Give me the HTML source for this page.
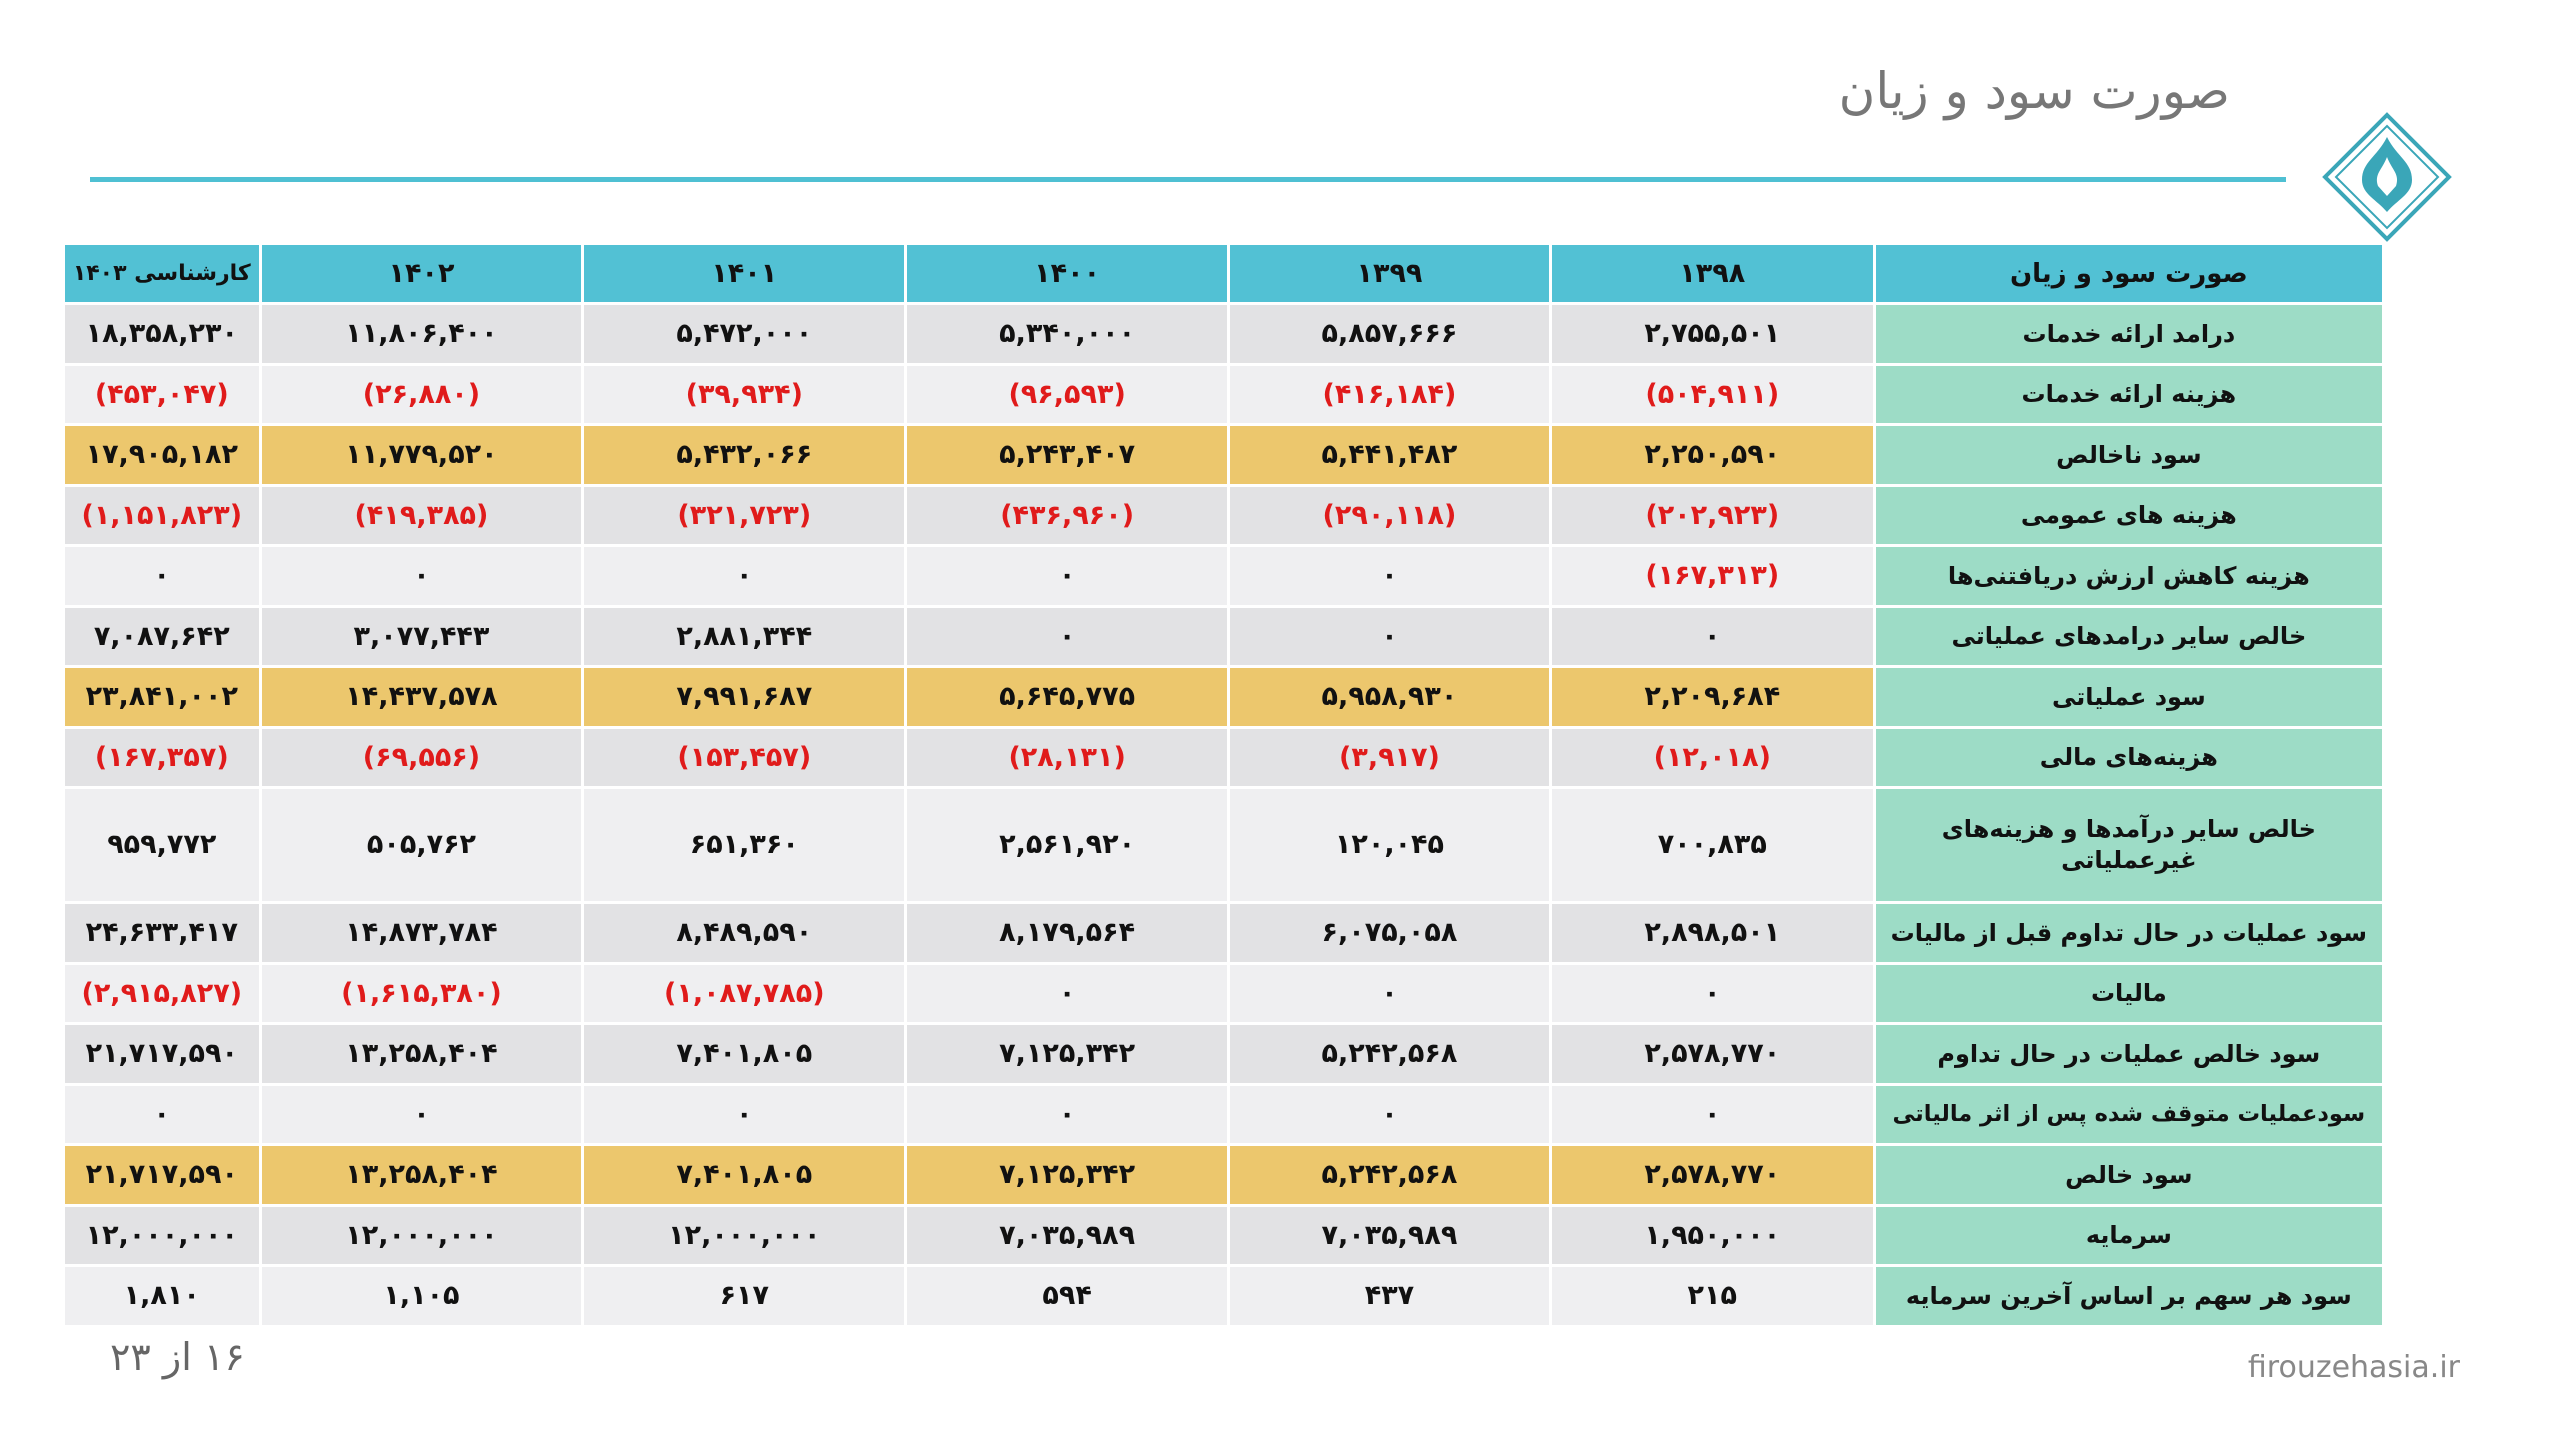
<!DOCTYPE html>
<html><head><meta charset="utf-8"><style>
html,body{margin:0;padding:0;background:#fff;width:2560px;height:1440px;overflow:hidden}
body{position:relative;font-family:"DejaVu Sans","Liberation Sans",sans-serif}
.title{position:absolute;right:330px;top:62px;font-size:50px;color:#777;direction:rtl}
.line{position:absolute;left:90px;top:177px;width:2196px;height:5px;background:#4fc0d3}
table{position:absolute;left:62px;top:242px;width:2323px;border-collapse:separate;border-spacing:3px;direction:rtl;table-layout:fixed}
td{text-align:center;font-weight:bold;font-size:27px;color:#111;height:57.5px;padding:0;white-space:nowrap;overflow:hidden}
tr.h td{background:#52c1d4;height:57px}
td.l{background:#9ddcc6;font-size:24px;letter-spacing:-0.6px}
tr.a td:not(.l){background:#e2e2e4}
tr.b td:not(.l){background:#efeff1}
tr.y td:not(.l){background:#ecc76d}
.r{color:#e01b1b}
tr.d td{height:112px;white-space:normal;line-height:1.3}
td.s{font-size:22px;letter-spacing:-1px}
.foot1{position:absolute;left:110px;top:1335px;font-size:38px;color:#666;direction:rtl}
.foot2{position:absolute;right:100px;top:1350px;font-size:30px;color:#888}
.logo{position:absolute;left:2322px;top:112px}
</style></head><body>
<div class="title">صورت سود و زیان</div>
<div class="line"></div>
<svg class="logo" width="130" height="130" viewBox="0 0 130 130">
<polygon points="65,3 127,65 65,127 3,65" fill="none" stroke="#3aa6b8" stroke-width="4"/>
<polygon points="65,14 116,65 65,116 14,65" fill="none" stroke="#3aa6b8" stroke-width="2"/>
<path d="M65,25 C55,45 40,50 40,68 C40,82 55,88 65,100 C75,88 90,82 90,68 C90,50 75,45 65,25Z" fill="#3aa6b8"/>
<path d="M65,45 C60,58 52,62 56,74 L65,84 L74,74 C78,62 70,58 65,45Z" fill="#fff"/>
</svg>
<table>
<colgroup><col style="width:505px"><col style="width:320px"><col style="width:318px"><col style="width:319px"><col style="width:319px"><col style="width:319px"><col style="width:193px"></colgroup>
<tr class="h"><td class="l" style="background:#52c1d4;font-size:26px">صورت سود و زیان</td><td>۱۳۹۸</td><td>۱۳۹۹</td><td>۱۴۰۰</td><td>۱۴۰۱</td><td>۱۴۰۲</td><td class="s">کارشناسی ۱۴۰۳</td></tr>
<tr class="a"><td class="l">درامد ارائه خدمات</td><td>۲,۷۵۵,۵۰۱</td><td>۵,۸۵۷,۶۶۶</td><td>۵,۳۴۰,۰۰۰</td><td>۵,۴۷۲,۰۰۰</td><td>۱۱,۸۰۶,۴۰۰</td><td>۱۸,۳۵۸,۲۳۰</td></tr>
<tr class="b"><td class="l">هزینه ارائه خدمات</td><td class="r">(۵۰۴,۹۱۱)</td><td class="r">(۴۱۶,۱۸۴)</td><td class="r">(۹۶,۵۹۳)</td><td class="r">(۳۹,۹۳۴)</td><td class="r">(۲۶,۸۸۰)</td><td class="r">(۴۵۳,۰۴۷)</td></tr>
<tr class="y"><td class="l">سود ناخالص</td><td>۲,۲۵۰,۵۹۰</td><td>۵,۴۴۱,۴۸۲</td><td>۵,۲۴۳,۴۰۷</td><td>۵,۴۳۲,۰۶۶</td><td>۱۱,۷۷۹,۵۲۰</td><td>۱۷,۹۰۵,۱۸۲</td></tr>
<tr class="a"><td class="l">هزینه های عمومی</td><td class="r">(۲۰۲,۹۲۳)</td><td class="r">(۲۹۰,۱۱۸)</td><td class="r">(۴۳۶,۹۶۰)</td><td class="r">(۳۲۱,۷۲۳)</td><td class="r">(۴۱۹,۳۸۵)</td><td class="r">(۱,۱۵۱,۸۲۳)</td></tr>
<tr class="b"><td class="l">هزینه کاهش ارزش دریافتنی‌ها</td><td class="r">(۱۶۷,۳۱۳)</td><td>۰</td><td>۰</td><td>۰</td><td>۰</td><td>۰</td></tr>
<tr class="a"><td class="l">خالص سایر درامدهای عملیاتی</td><td>۰</td><td>۰</td><td>۰</td><td>۲,۸۸۱,۳۴۴</td><td>۳,۰۷۷,۴۴۳</td><td>۷,۰۸۷,۶۴۲</td></tr>
<tr class="y"><td class="l">سود عملیاتی</td><td>۲,۲۰۹,۶۸۴</td><td>۵,۹۵۸,۹۳۰</td><td>۵,۶۴۵,۷۷۵</td><td>۷,۹۹۱,۶۸۷</td><td>۱۴,۴۳۷,۵۷۸</td><td>۲۳,۸۴۱,۰۰۲</td></tr>
<tr class="a"><td class="l">هزینه‌های مالی</td><td class="r">(۱۲,۰۱۸)</td><td class="r">(۳,۹۱۷)</td><td class="r">(۲۸,۱۳۱)</td><td class="r">(۱۵۳,۴۵۷)</td><td class="r">(۶۹,۵۵۶)</td><td class="r">(۱۶۷,۳۵۷)</td></tr>
<tr class="b d"><td class="l">خالص سایر درآمدها و هزینه‌های<br>غیرعملیاتی</td><td>۷۰۰,۸۳۵</td><td>۱۲۰,۰۴۵</td><td>۲,۵۶۱,۹۲۰</td><td>۶۵۱,۳۶۰</td><td>۵۰۵,۷۶۲</td><td>۹۵۹,۷۷۲</td></tr>
<tr class="a"><td class="l">سود عملیات در حال تداوم قبل از مالیات</td><td>۲,۸۹۸,۵۰۱</td><td>۶,۰۷۵,۰۵۸</td><td>۸,۱۷۹,۵۶۴</td><td>۸,۴۸۹,۵۹۰</td><td>۱۴,۸۷۳,۷۸۴</td><td>۲۴,۶۳۳,۴۱۷</td></tr>
<tr class="b"><td class="l">مالیات</td><td>۰</td><td>۰</td><td>۰</td><td class="r">(۱,۰۸۷,۷۸۵)</td><td class="r">(۱,۶۱۵,۳۸۰)</td><td class="r">(۲,۹۱۵,۸۲۷)</td></tr>
<tr class="a"><td class="l">سود خالص عملیات در حال تداوم</td><td>۲,۵۷۸,۷۷۰</td><td>۵,۲۴۲,۵۶۸</td><td>۷,۱۲۵,۳۴۲</td><td>۷,۴۰۱,۸۰۵</td><td>۱۳,۲۵۸,۴۰۴</td><td>۲۱,۷۱۷,۵۹۰</td></tr>
<tr class="b"><td class="l" style="font-size:22.5px">سودعملیات متوقف شده پس از اثر مالیاتی</td><td>۰</td><td>۰</td><td>۰</td><td>۰</td><td>۰</td><td>۰</td></tr>
<tr class="y"><td class="l">سود خالص</td><td>۲,۵۷۸,۷۷۰</td><td>۵,۲۴۲,۵۶۸</td><td>۷,۱۲۵,۳۴۲</td><td>۷,۴۰۱,۸۰۵</td><td>۱۳,۲۵۸,۴۰۴</td><td>۲۱,۷۱۷,۵۹۰</td></tr>
<tr class="a"><td class="l">سرمایه</td><td>۱,۹۵۰,۰۰۰</td><td>۷,۰۳۵,۹۸۹</td><td>۷,۰۳۵,۹۸۹</td><td>۱۲,۰۰۰,۰۰۰</td><td>۱۲,۰۰۰,۰۰۰</td><td>۱۲,۰۰۰,۰۰۰</td></tr>
<tr class="b"><td class="l">سود هر سهم بر اساس آخرین سرمایه</td><td>۲۱۵</td><td>۴۳۷</td><td>۵۹۴</td><td>۶۱۷</td><td>۱,۱۰۵</td><td>۱,۸۱۰</td></tr>
</table>
<div class="foot1">۱۶ از ۲۳</div>
<div class="foot2">firouzehasia.ir</div>
</body></html>
